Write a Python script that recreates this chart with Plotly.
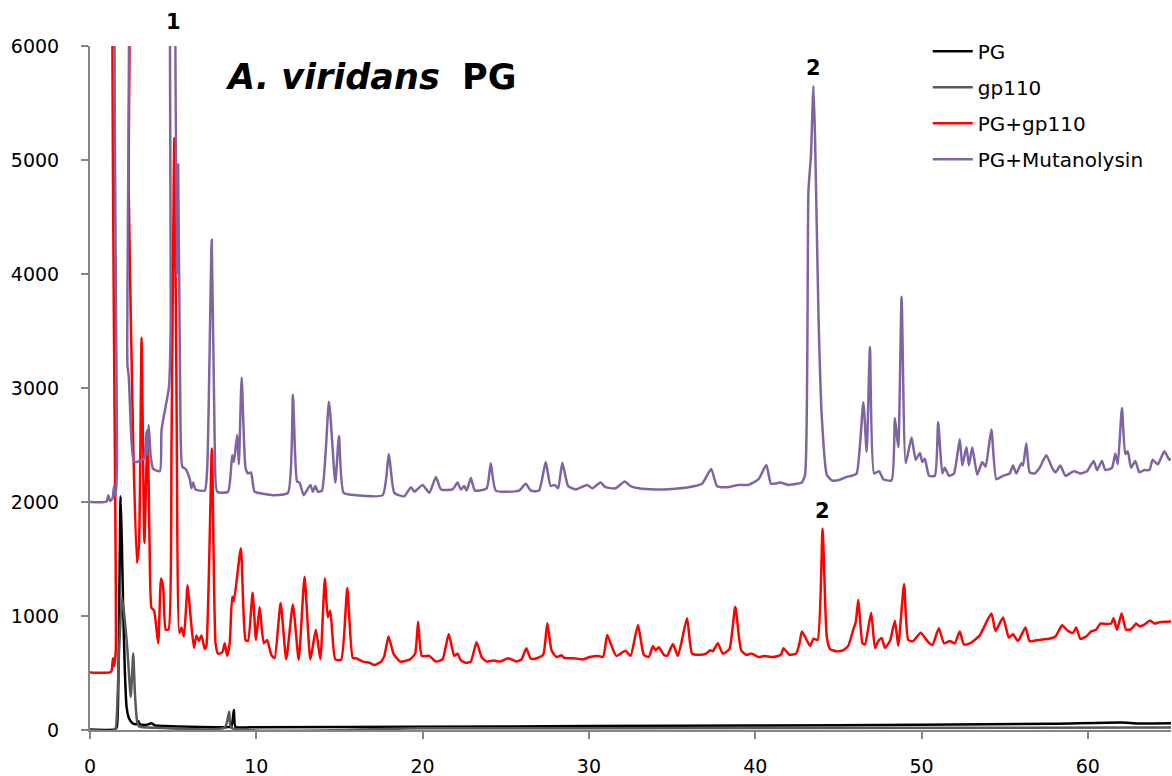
import plotly.graph_objects as go

# Retention time (min) / intensity points
pg_t = [0, 1.5, 1.62, 1.72, 1.84, 1.92, 2.0, 2.1, 2.2, 2.35, 2.55, 2.8, 2.9, 3.0, 3.4, 3.7, 3.9, 4.5,
        6.0, 8.2, 8.5, 8.65, 8.75, 10, 20, 30, 40, 50, 58, 62, 63, 65]
pg_v = [5, 5, 30, 600, 2050, 1610, 1030, 500, 200, 100, 60, 50, 80, 50, 45, 60, 40, 35,
        28, 25, 30, 175, 28, 25, 28, 35, 40, 45, 55, 65, 58, 60]

gp_t = [0, 1.5, 1.62, 1.75, 1.92, 2.03, 2.25, 2.45, 2.6, 2.7, 2.82, 2.95, 4, 8.1, 8.37, 8.5,
        20, 40, 65]
gp_v = [0, 0, 150, 700, 1160, 1050, 700, 290, 672, 325, 88, 30, 20, 20, 160, 20,
        15, 18, 22]

pgg_t = [0, 1.2, 1.3, 1.38, 1.45, 1.55, 1.7, 2.15, 2.33, 2.6, 2.82, 2.95, 3.1, 3.27, 3.46, 3.58,
         3.7, 3.85, 4.1, 4.27, 4.4, 4.55, 4.72, 4.9, 5.07, 5.2, 5.37, 5.5, 5.65, 5.87, 6.05, 6.25,
         6.4, 6.55, 6.7, 6.9, 7.0, 7.33, 7.55, 7.7, 7.95, 8.1, 8.25, 8.4, 8.55, 8.65, 9.07, 9.35,
         9.5, 9.78, 9.98, 10.2, 10.45, 10.65, 10.9, 11.1, 11.46, 11.8, 12.2, 12.55, 12.9, 13.25,
         13.58, 13.85, 14.12, 14.3, 14.45, 14.75, 15.1, 15.47, 15.8, 16.0, 16.4, 16.8, 17.1, 17.5,
         17.7, 17.95, 18.25, 18.65, 19.25, 19.55, 19.73, 19.95, 20.4, 20.8, 21.2, 21.57, 21.9,
         22.1, 22.3, 22.6, 22.9, 23.24, 23.55, 23.85, 24.25, 24.65, 25.15, 25.65, 25.95, 26.24,
         26.5, 26.85, 27.25, 27.5, 27.75, 28.05, 28.35, 28.55, 29.05, 29.65, 30.05, 30.55, 30.85,
         31.1, 31.3, 31.65, 32.2, 32.5, 32.95, 33.3, 33.6, 33.85, 34.0, 34.2, 34.5, 34.7, 35.05,
         35.35, 35.9, 36.2, 36.65, 37.05, 37.3, 37.45, 37.75, 38.05, 38.45, 38.8, 39.15, 39.45,
         39.8, 40.2, 40.55, 41.05, 41.55, 41.7, 42.05, 42.45, 42.65, 42.8, 43.06, 43.3, 43.5,
         43.75, 44.05, 44.3, 44.5, 44.9, 45.3, 45.6, 45.9, 46.05, 46.2, 46.45, 46.6, 46.97, 47.2,
         47.4, 47.6, 47.8, 48.1, 48.4, 48.6, 48.95, 49.2, 49.5, 49.95, 50.35, 50.65, 51.04, 51.35,
         51.7, 52.0, 52.3, 52.55, 52.9, 53.2, 53.5, 54.2, 54.45, 54.9, 55.25, 55.5, 55.8, 56.25,
         56.5, 57.05, 57.65, 58.05, 58.45, 58.8, 59.1, 59.3, 59.55, 59.9, 60.2, 60.5, 60.75, 61.1,
         61.4, 61.55, 61.75, 62.03, 62.3, 62.6, 62.9, 63.1, 63.4, 63.75, 64.0, 64.3, 64.6, 65]
pgg_v = [505, 505, 520, 630, 560, 700, 9000, 9000, 4710, 2500, 1465, 1640, 3440, 1640, 2630, 1650,
         1070, 1050, 760, 1330, 1250, 880, 880, 2500, 5190, 3000, 850, 900, 820, 1270, 990, 720,
         830, 780, 830, 710, 740, 2470, 760, 670, 680, 760, 650, 760, 1170, 1130, 1595, 790,
         780, 1205, 790, 1080, 760, 790, 660, 630, 1115, 620, 1100, 615, 1345, 620,
         880, 620, 1330, 990, 1045, 620, 615, 1245, 630, 630, 600, 590, 570, 600,
         650, 820, 670, 600, 620, 670, 950, 650, 650, 600, 620, 842, 650,
         670, 610, 590, 600, 770, 640, 600, 610, 600, 630, 600, 620, 717,
         625, 630, 660, 936, 700, 640, 655, 630, 630, 620, 640, 650, 640,
         833, 760, 650, 696, 650, 921, 660, 640, 737, 700, 725, 660, 650, 754,
         650, 980, 670, 660, 670, 700, 690, 760, 670, 710, 1082, 700, 660,
         670, 640, 650, 640, 660, 717, 660, 670, 750, 865, 800, 737, 800,
         790, 1767, 820, 710, 690, 700, 740, 882, 950, 1143, 760, 750, 1028, 720,
         780, 807, 720, 780, 959, 740, 1280, 790, 780, 854, 780, 745, 893, 760,
         780, 760, 865, 750, 760, 790, 830, 1021, 870, 987, 810, 840, 780, 900,
         780, 790, 800, 820, 918, 870, 850, 900, 800, 820, 865, 880, 934, 930,
         934, 980, 880, 1021, 880, 885, 934, 910, 925, 960, 934, 945, 950, 952]

pgm_t = [0, 1.0, 1.1, 1.2, 1.35, 1.45, 1.55, 1.62, 1.75, 2.1, 2.25, 2.33, 2.5, 2.65, 3.0, 3.25,
         3.4, 3.45, 3.53, 3.65, 3.8, 4.2, 4.3, 4.5, 4.75, 4.85, 4.95, 5.05, 5.1, 5.22, 5.3, 5.42,
         5.55, 5.75, 6.0, 6.1, 6.2, 6.35, 6.9, 7.05, 7.32, 7.5, 7.65, 8.3, 8.55, 8.65, 8.85, 8.95,
         9.12, 9.35, 9.5, 9.68, 9.9, 10.5, 11.0, 11.9, 12.2, 12.45, 12.6, 12.85, 13.25, 13.4,
         13.55, 13.7, 13.95, 14.37, 14.75, 14.97, 15.25, 16.0, 17.6, 17.97, 18.3, 18.9, 19.3,
         19.5, 20.0, 20.4, 20.8, 21.1, 21.8, 22.1, 22.3, 22.5, 22.65, 22.9, 23.15, 23.85, 24.1,
         24.4, 25.8, 26.2, 26.5, 27.0, 27.4, 27.7, 27.95, 28.15, 28.4, 28.75, 29.2, 29.9, 30.2,
         30.7, 31.0, 31.6, 32.15, 32.5, 33.0, 34.0, 35.0, 36.0, 36.8, 37.35, 37.7, 38.3, 39.0,
         39.6, 40.2, 40.67, 40.95, 41.5, 42.0, 42.5, 42.8, 43.0, 43.2, 43.35, 43.5, 43.6, 43.8,
         44.0, 44.3, 44.6, 45.0, 45.5, 45.8, 46.1, 46.5, 46.7, 46.9, 47.15, 47.45, 47.7, 48.2,
         48.4, 48.6, 48.8, 49.05, 49.4, 49.65, 49.9, 50.05, 50.2, 50.45, 50.8, 51.0, 51.25, 51.4,
         51.65, 51.95, 52.3, 52.45, 52.7, 52.85, 53.05, 53.35, 53.65, 53.85, 54.2, 54.5, 54.9,
         55.3, 55.5, 55.7, 56.0, 56.1, 56.3, 56.5, 56.8, 57.1, 57.5, 57.85, 58.05, 58.35, 58.65,
         59.15, 59.55, 59.95, 60.35, 60.55, 60.85, 61.05, 61.45, 61.65, 61.8, 62.05, 62.25, 62.4,
         62.6, 62.85, 63.1, 63.4, 63.7, 63.9, 64.2, 64.6, 64.9, 65]
pgm_v = [2000, 2005, 2060, 2010, 2030, 2140, 2050, 2300, 9000, 9000, 3200, 3100, 2520, 2350, 2360, 2380,
         2620, 2410, 2675, 2400, 2290, 2270, 2630, 2800, 3010, 3500, 9000, 9000, 7000, 4000, 4960, 3000,
         2310, 2290, 2200, 2120, 2170, 2110, 2100, 2300, 4300, 2500, 2090, 2090, 2410, 2350, 2590, 2330,
         3090, 2300, 2250, 2260, 2090, 2070, 2060, 2080, 2940, 2180, 2170, 2060, 2150, 2090,
         2140, 2090, 2100, 2880, 2170, 2580, 2080, 2060, 2060, 2420, 2080, 2050, 2130,
         2090, 2150, 2080, 2220, 2110, 2110, 2170, 2110, 2140, 2100, 2210, 2100, 2120, 2340,
         2100, 2100, 2160, 2100, 2100, 2350, 2140, 2150, 2120, 2345, 2140, 2110, 2150, 2120,
         2170, 2130, 2120, 2180, 2140, 2120, 2110, 2115, 2130, 2160, 2290, 2140, 2130, 2150,
         2150, 2200, 2325, 2160, 2170, 2150, 2160, 2170, 2240, 4730, 5040, 5650, 5180, 3660,
         2750, 2240, 2190, 2190, 2220, 2230, 2250, 2875, 2440, 3360, 2250, 2270, 2200, 2190,
         2735, 2480, 3800, 2340, 2565, 2370, 2430, 2350, 2380, 2230, 2230, 2700, 2250, 2300,
         2230, 2250, 2550, 2320, 2480, 2320, 2480, 2240, 2350, 2310, 2635, 2200, 2230,
         2250, 2320, 2250, 2340, 2320, 2515, 2260, 2250, 2300, 2410, 2300, 2260, 2320, 2230,
         2270, 2250, 2270, 2360, 2280, 2360, 2280, 2300, 2425, 2330, 2825, 2420, 2445,
         2300, 2360, 2260, 2280, 2280, 2370, 2330, 2445, 2370, 2380]

series_names = ["PG", "gp110", "PG+gp110", "PG+Mutanolysin"]
series_colors = ["#000000", "#595959", "#FF0000", "#8064A2"]

x_ticks = [0, 10, 20, 30, 40, 50, 60]
y_ticks = [0, 1000, 2000, 3000, 4000, 5000, 6000]

FONT = "DejaVu Sans"

fig = go.Figure()
for i, (name, tx, vy) in enumerate(zip(series_names, [pg_t, gp_t, pgg_t, pgm_t],
                                        [pg_v, gp_v, pgg_v, pgm_v])):
    fig.add_trace(go.Scatter(x=tx, y=vy, mode="lines", name=name, legendgroup=f"g{i}",
                             line=dict(color=series_colors[i], width=2.5,
                                       shape="spline", smoothing=0.5)))

# Peak labels, anchored to the data
purple_peak2 = max(range(len(pgm_t)), key=lambda k: pgm_v[k] if pgm_t[k] > 30 else -1)
red_peak2 = max(range(len(pgg_t)), key=lambda k: pgg_v[k] if pgg_t[k] > 30 else -1)
anns = [
    dict(x=5.05, y=6000, text="<b>1</b>", yshift=24),
    dict(x=pgm_t[purple_peak2], y=pgm_v[purple_peak2], text="<b>2</b>", yshift=18),
    dict(x=pgg_t[red_peak2], y=pgg_v[red_peak2], text="<b>2</b>", yshift=18),
]
for a in anns:
    fig.add_annotation(xref="x", yref="y", showarrow=False, yanchor="middle",
                       font=dict(family=FONT, size=21, color="#000000"), **a)

fig.add_annotation(xref="paper", yref="paper", x=0.123, y=0.955, xanchor="left", yanchor="middle",
                   showarrow=False,
                   text="<b><i>A. viridans</i></b>  <b>PG</b>",
                   font=dict(family=FONT, size=35, color="#000000"))

fig.update_layout(
    width=1172, height=776,
    margin=dict(l=90, r=1, t=46, b=46),
    paper_bgcolor="white", plot_bgcolor="white",
    font=dict(family=FONT, size=19, color="#000000"),
    showlegend=True,
    legend=dict(x=0.775, y=1.021, xanchor="left", yanchor="top",
                font=dict(family=FONT, size=20), tracegroupgap=7,
                bgcolor="rgba(0,0,0,0)", itemwidth=40),
    xaxis=dict(range=[0, 65], tickvals=x_ticks, ticks="outside", ticklen=7, tickwidth=2,
               tickcolor="#868686", showline=True, linecolor="#868686", linewidth=2,
               showgrid=False, zeroline=False, tickfont=dict(family=FONT, size=19),
               ticklabelstandoff=11, automargin=False),
    yaxis=dict(range=[0, 6000], tickvals=y_ticks, ticks="outside", ticklen=7, tickwidth=2,
               tickcolor="#868686", showline=True, linecolor="#868686", linewidth=2,
               showgrid=False, zeroline=False, tickfont=dict(family=FONT, size=19),
               ticklabelstandoff=18, automargin=False),
)

fig.write_html("out.html", config={"displayModeBar": False},
               post_script="document.body.style.margin='0px';document.body.style.overflow='hidden';")
